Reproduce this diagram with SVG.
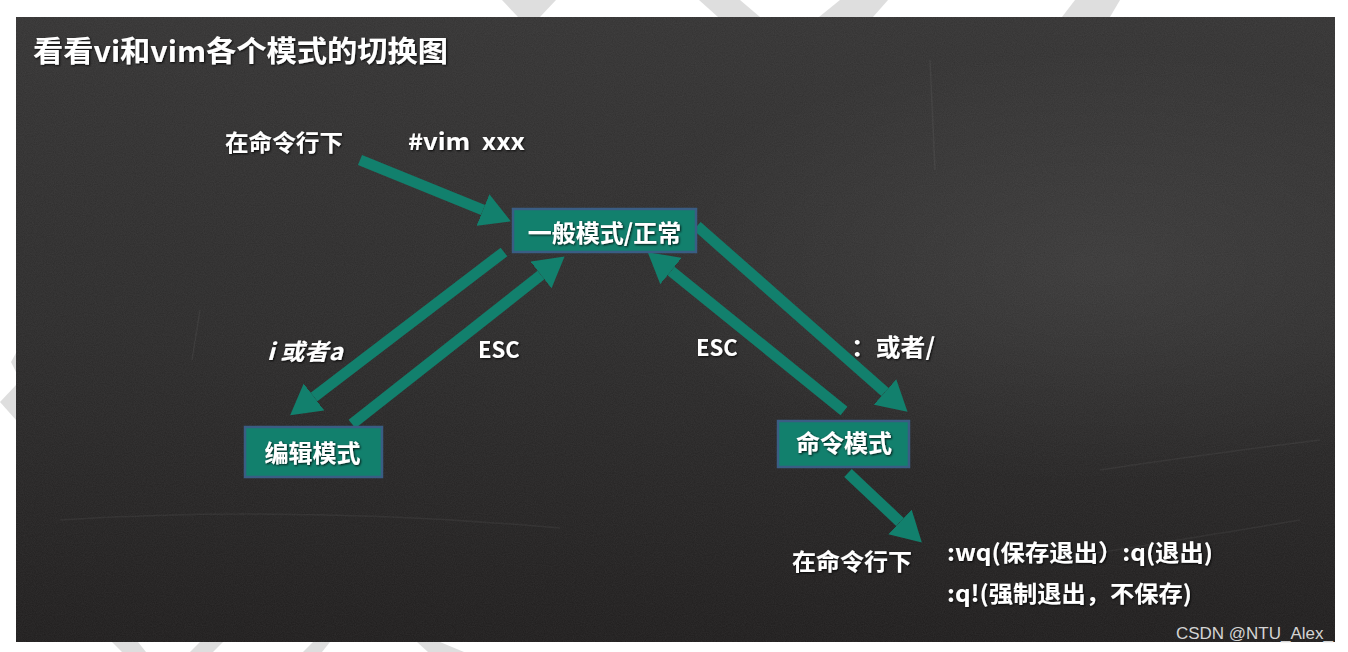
<svg xmlns="http://www.w3.org/2000/svg" width="1348" height="652" viewBox="0 0 1348 652">
  <style>
    .wm { fill: #dedede; }
    .t { fill: #ffffff; font-family: "Noto Sans CJK SC", "Microsoft YaHei", sans-serif; font-weight: bold; filter: url(#shadow); }
    .box { fill: #12806d; stroke: #3a5d84; stroke-width: 2.5; }
    .arrow { fill: none; stroke: #12806d; stroke-width: 11; stroke-linecap: butt; marker-end: url(#head); }
    .scratch { stroke: #ffffff; stroke-opacity: 0.05; fill: none; stroke-width: 1.5; }
  </style>
  <defs>
    <linearGradient id="boardGrad" x1="0" y1="0" x2="0" y2="1">
      <stop offset="0" stop-color="#343333"/>
      <stop offset="0.5" stop-color="#2c2b2b"/>
      <stop offset="1" stop-color="#1f1d1d"/>
    </linearGradient>
    <radialGradient id="glow" cx="0.82" cy="0.4" r="0.35">
      <stop offset="0" stop-color="#ffffff" stop-opacity="0.06"/>
      <stop offset="1" stop-color="#ffffff" stop-opacity="0"/>
    </radialGradient>
    <filter id="grain" x="0" y="0" width="100%" height="100%">
      <feTurbulence type="fractalNoise" baseFrequency="0.9" numOctaves="2" seed="3" result="n"/>
      <feColorMatrix type="matrix" values="0 0 0 0 1  0 0 0 0 1  0 0 0 0 1  0 0 0 0.14 0"/>
    </filter>
    <filter id="shadow" x="-5%" y="-20%" width="110%" height="140%">
      <feDropShadow dx="1" dy="1" stdDeviation="0.8" flood-color="#000000" flood-opacity="0.85"/>
    </filter>
    <marker id="head" viewBox="0 0 30 34" refX="0" refY="17" markerWidth="30" markerHeight="34" markerUnits="userSpaceOnUse" orient="auto">
      <path d="M0,0 L30,17 L0,34 Z" fill="#12806d"/>
    </marker>
  </defs>

  <rect x="0" y="0" width="1348" height="652" fill="#ffffff"/>
  <g id="watermark">
    <polygon class="wm" points="502,0 556,0 540,17 518,17"/>
    <polygon class="wm" points="699,0 740,0 760,17 718,17"/>
    <polygon class="wm" points="840,0 888,0 873,17 819,17"/>
    <polygon class="wm" points="1075,0 1120,0 1110,17 1062,17"/>
    <polygon class="wm" points="112,642 138,642 146,652 122,652"/>
    <polygon class="wm" points="200,642 223,642 213,652 190,652"/>
    <polygon class="wm" points="313,642 330,642 322,652 303,652"/>
    <polygon class="wm" points="417,642 440,642 464,652 428,652"/>
    <polygon class="wm" points="16,353 11,362 16,372"/>
    <polygon class="wm" points="16,385 0,402 16,420"/>
  </g>

  <g id="board">
    <rect x="16" y="17" width="1319" height="625" fill="url(#boardGrad)"/>
    <rect x="16" y="17" width="1319" height="625" fill="url(#glow)"/>
    <rect x="16" y="17" width="1319" height="625" filter="url(#grain)" opacity="0.5"/>
    <path class="scratch" d="M60,520 Q300,505 560,528"/>
    <path class="scratch" d="M1100,470 Q1200,455 1320,440"/>
    <path class="scratch" d="M930,60 L935,170"/>
    <path class="scratch" d="M1050,560 Q1150,545 1300,520"/>
    <path class="scratch" d="M200,310 L192,360"/>
  </g>

  <text class="t" x="33" y="62" font-size="29" textLength="415" lengthAdjust="spacingAndGlyphs">看看vi和vim各个模式的切换图</text>

  <g id="connectors">
    <path class="arrow" d="M360,160 L483,210"/>
    <path class="arrow" d="M504,252 L314,397"/>
    <path class="arrow" d="M352,424 L541,275"/>
    <path class="arrow" d="M844,411 L671,271"/>
    <path class="arrow" d="M697,226 L885,392"/>
    <path class="arrow" d="M848,473 L900,522"/>
  </g>

  <g id="node-normal">
    <rect class="box" x="513" y="209" width="183" height="43"/>
    <text class="t" x="604.5" y="242" font-size="24" text-anchor="middle">一般模式/正常</text>
  </g>
  <g id="node-edit">
    <rect class="box" x="245" y="427" width="137" height="50"/>
    <text class="t" x="312.5" y="462" font-size="24" text-anchor="middle">编辑模式</text>
  </g>
  <g id="node-command">
    <rect class="box" x="778" y="421" width="131" height="46"/>
    <text class="t" x="844" y="452" font-size="24" text-anchor="middle">命令模式</text>
  </g>

  <g id="labels">
    <text class="t" x="225" y="151" font-size="23" textLength="118" lengthAdjust="spacingAndGlyphs">在命令行下</text>
    <text class="t" x="408" y="150" font-size="23" xml:space="preserve" textLength="117" lengthAdjust="spacingAndGlyphs">#vim  xxx</text>
    <text class="t" x="267" y="360" font-size="23" font-style="italic" textLength="76" lengthAdjust="spacingAndGlyphs">i 或者a</text>
    <text class="t" x="478" y="358" font-size="22">ESC</text>
    <text class="t" x="696" y="356" font-size="22">ESC</text>
    <text class="t" x="851" y="356" font-size="24" textLength="84" lengthAdjust="spacingAndGlyphs">：或者/</text>
    <text class="t" x="792" y="570" font-size="23" textLength="120" lengthAdjust="spacingAndGlyphs">在命令行下</text>
    <text class="t" x="947" y="561" font-size="23" textLength="266" lengthAdjust="spacingAndGlyphs">:wq(保存退出）:q(退出)</text>
    <text class="t" x="947" y="602" font-size="23" textLength="245" lengthAdjust="spacingAndGlyphs">:q!(强制退出，不保存)</text>
  </g>

  <text x="1333" y="639" font-size="17" text-anchor="end" fill="#d4d4d4" font-family="Liberation Sans, Arial, sans-serif">CSDN @NTU_Alex_</text>
</svg>
